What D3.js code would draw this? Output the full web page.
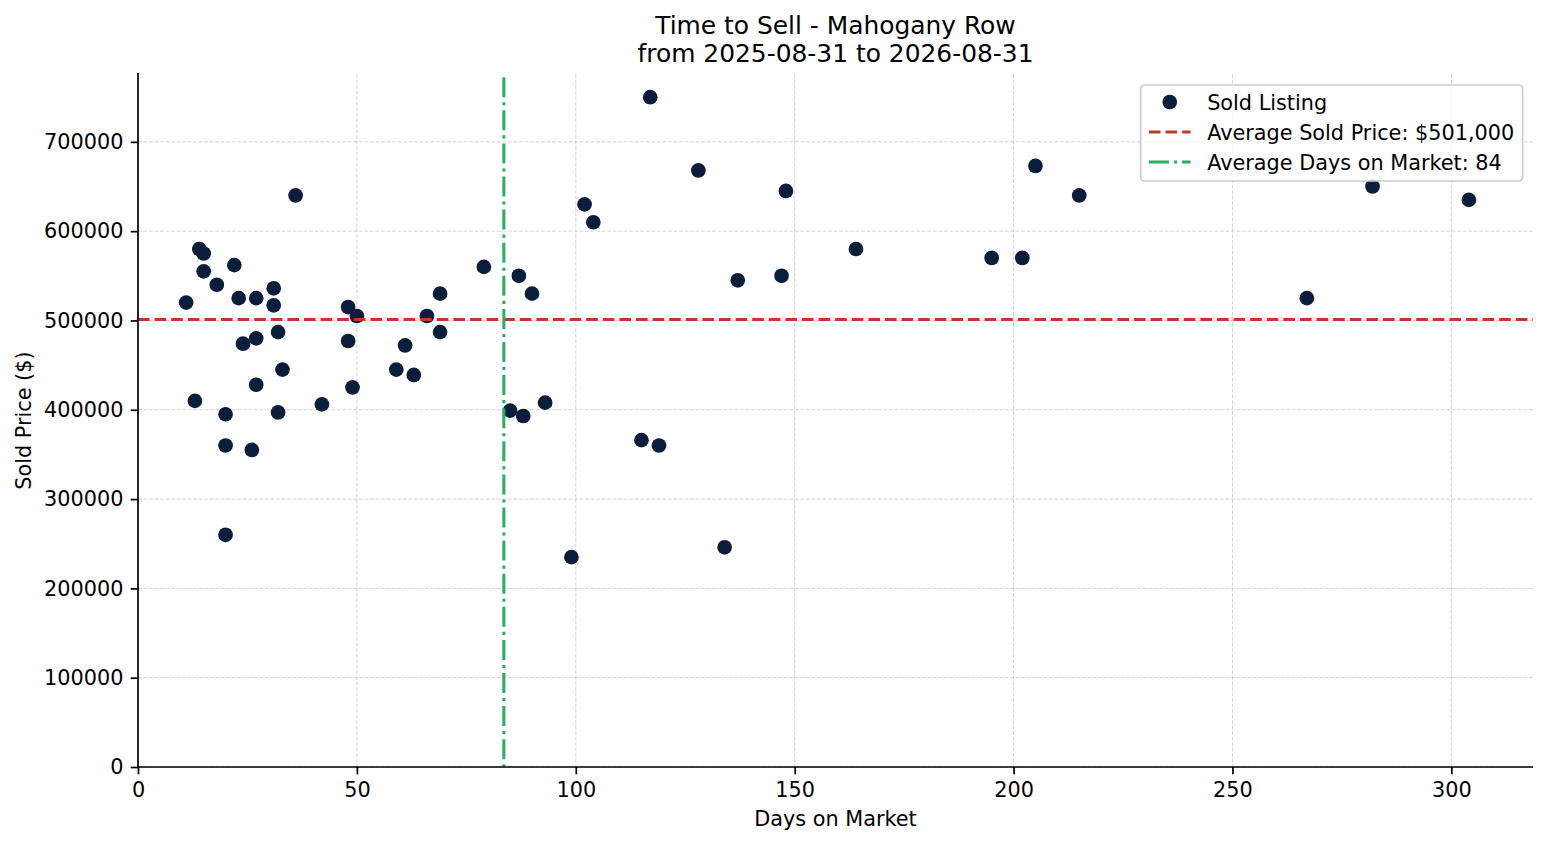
<!DOCTYPE html>
<html>
<head>
<meta charset="utf-8">
<script src="https://cdn.jsdelivr.net/npm/d3@7"></script>
<style>
  body { margin: 0; background: #fff; }
  svg { display: block; font-family: "DejaVu Sans", sans-serif; }
</style>
</head>
<body>
<div class="vis-scatter"></div>
<script>
// Days on market for each sold listing
const days = [11, 13, 14, 15, 15, 18, 20, 20, 20, 22, 23, 24, 26, 27, 27, 27, 31, 31, 32, 32,
  33, 36, 42, 48, 48, 49, 50, 59, 61, 63, 66, 69, 69, 79, 85, 87, 88, 90, 93, 99,
  102, 104, 115, 117, 119, 128, 134, 137, 147, 148, 164, 195, 202, 205, 215, 267, 282, 304];
// Sold price for each listing (same order)
const prices = [520000, 410000, 580000, 575000, 555000, 540000, 395000, 360000, 260000, 562000,
  525000, 474000, 355000, 525000, 480000, 428000, 536000, 517000, 487000, 397000,
  445000, 640000, 406000, 515000, 477000, 425000, 505000, 445000, 472000, 439000,
  505000, 530000, 487000, 560000, 399000, 550000, 393000, 530000, 408000, 235000,
  630000, 610000, 366000, 750000, 360000, 668000, 246000, 545000, 550000, 645000,
  580000, 570000, 570000, 673000, 640000, 525000, 650000, 635000];
const xTicks = [0, 50, 100, 150, 200, 250, 300];
const yTicks = [0, 100000, 200000, 300000, 400000, 500000, 600000, 700000];
const titleLines = ["Time to Sell - Mahogany Row", "from 2025-08-31 to 2026-08-31"];

const W = 1547, H = 845;
const margin = { top: 74.2, right: 14, bottom: 78, left: 138 };
const width = W - margin.left - margin.right;
const height = H - margin.top - margin.bottom;
const fs = 20.8; // 10pt
const navy = "#0a1e3c", red = "#c0392b", green = "#27ae60";

const data = days.map((d, i) => ({ days: d, price: prices[i] }));
const avgPrice = d3.mean(prices);
const avgDays = d3.mean(days);

const svg = d3.select(".vis-scatter").append("svg")
  .attr("width", W).attr("height", H);
const g = svg.append("g").attr("transform", `translate(${margin.left},${margin.top})`);

// matplotlib-like auto margins (5%), lower limits pinned at 0
const xMax = d3.max(days) + 0.05 * (d3.max(days) - d3.min(days));
const yMax = d3.max(prices) + 0.05 * (d3.max(prices) - d3.min(prices));
const x = d3.scaleLinear().domain([0, xMax]).range([0, width]);
const y = d3.scaleLinear().domain([0, yMax]).range([height, 0]);

// grid
g.append("g").selectAll("line").data(xTicks).enter().append("line")
  .attr("x1", d => x(d)).attr("x2", d => x(d)).attr("y1", 0).attr("y2", height)
  .attr("stroke", "#b0b0b0").attr("stroke-opacity", 0.55).attr("stroke-width", 1)
  .attr("stroke-dasharray", "3.85,1.67");
g.append("g").selectAll("line").data(yTicks).enter().append("line")
  .attr("y1", d => y(d)).attr("y2", d => y(d)).attr("x1", 0).attr("x2", width)
  .attr("stroke", "#b0b0b0").attr("stroke-opacity", 0.55).attr("stroke-width", 1)
  .attr("stroke-dasharray", "3.85,1.67");

// points
g.selectAll(".dot").data(data).enter().append("circle")
  .attr("class", "dot")
  .attr("cx", d => x(d.days)).attr("cy", d => y(d.price))
  .attr("r", 7.35).attr("fill", navy);

// average lines
g.append("line")
  .attr("x1", 0).attr("x2", width).attr("y1", y(avgPrice)).attr("y2", y(avgPrice))
  .attr("stroke", red).attr("stroke-width", 3).attr("stroke-dasharray", "11.6,5");
g.append("line")
  .attr("x1", x(avgDays)).attr("x2", x(avgDays)).attr("y1", 3).attr("y2", height)
  .attr("stroke", green).attr("stroke-width", 3).attr("stroke-dasharray", "20,5,3.1,5");

// axes
const xAxis = g.append("g").attr("transform", `translate(0,${height})`)
  .call(d3.axisBottom(x).tickValues(xTicks).tickSize(7.3).tickPadding(7.3).tickSizeOuter(0));
const yAxis = g.append("g")
  .call(d3.axisLeft(y).tickValues(yTicks).tickFormat(d3.format("d")).tickSize(7.3).tickPadding(7.3).tickSizeOuter(0));
[xAxis, yAxis].forEach(a => {
  a.select(".domain").attr("stroke", "#000").attr("stroke-width", 1.7);
  a.selectAll(".tick line").attr("stroke", "#000").attr("stroke-width", 1.7);
  a.selectAll(".tick text").attr("font-size", fs).attr("font-family", "DejaVu Sans").attr("fill", "#000");
});
xAxis.select(".domain").attr("d", `M0,0H${width}`);
yAxis.select(".domain").attr("d", `M0,${height}V-1.2`);
xAxis.selectAll(".tick text").attr("dy", "0.72em");

// labels
svg.append("text").attr("x", margin.left + width / 2).attr("y", 826)
  .attr("text-anchor", "middle").attr("font-size", fs).text("Days on Market");
svg.append("text").attr("transform", `translate(31,${margin.top + height / 2}) rotate(-90)`)
  .attr("text-anchor", "middle").attr("font-size", fs).text("Sold Price ($)");
svg.append("g").selectAll("text").data(titleLines).enter().append("text")
  .attr("x", margin.left + width / 2).attr("y", (d, i) => 34.3 + i * 27.4)
  .attr("text-anchor", "middle").attr("font-size", 24.9).text(d => d);

// legend
const legendItems = [
  { label: "Sold Listing", type: "dot" },
  { label: "Average Sold Price: $" + d3.format(",")(Math.round(avgPrice / 1000) * 1000), type: "dash" },
  { label: "Average Days on Market: " + Math.round(avgDays), type: "dashdot" }
];
const legend = g.append("g");
const frame = legend.append("rect").attr("rx", 4).attr("ry", 4)
  .attr("fill", "#fff").attr("fill-opacity", 0.8)
  .attr("stroke", "#cccccc").attr("stroke-width", 1.7);
const rowH = 30, pad = 0.4 * fs, handleL = 2 * fs, handleGap = 0.8 * fs;
const rows = legend.selectAll(".row").data(legendItems).enter().append("g")
  .attr("transform", (d, i) => `translate(0,${i * rowH})`);
rows.append("text").attr("x", pad + handleL + handleGap).attr("y", 0).attr("dy", "0.36em")
  .attr("font-size", fs).text(d => d.label);
rows.each(function (d) {
  const r = d3.select(this);
  if (d.type === "dot") {
    r.append("circle").attr("cx", pad + handleL / 2).attr("cy", 0).attr("r", 7.35).attr("fill", navy);
  } else {
    r.append("line").attr("x1", pad).attr("x2", pad + handleL).attr("y1", 0).attr("y2", 0)
      .attr("stroke", d.type === "dash" ? red : green).attr("stroke-width", 3)
      .attr("stroke-dasharray", d.type === "dash" ? "11.6,5" : "20,5,3.1,5");
  }
});
let maxW = 0;
rows.selectAll("text").each(function () { maxW = Math.max(maxW, this.getComputedTextLength()); });
const boxW = pad + handleL + handleGap + maxW + pad;
const boxH = 96;
frame.attr("x", 0).attr("y", -17).attr("width", boxW).attr("height", boxH);
legend.attr("transform", `translate(${width - 10.4 - boxW},${102 - margin.top})`);
</script>
</body>
</html>
